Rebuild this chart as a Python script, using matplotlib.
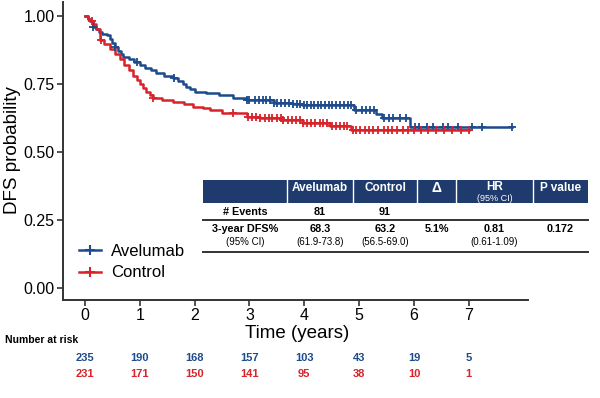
import numpy as np
import matplotlib
matplotlib.use("Agg")
import matplotlib.pyplot as plt
from matplotlib.patches import Rectangle
from matplotlib.lines import Line2D

plt.rcParams['font.family'] = ['Liberation Sans', 'DejaVu Sans']

# ---------------- data ----------------
groups = ["Avelumab", "Control"]
colors = ["#1d4b8c", "#d8232a"]

ave_times = [0, 0.05, 0.1, 0.15, 0.2, 0.25, 0.32, 0.4, 0.45, 0.5, 0.55, 0.6, 0.65, 0.7,
             0.8, 0.9, 1.0, 1.1, 1.2, 1.3, 1.45, 1.6, 1.7, 1.78, 1.85, 1.92, 2.0, 2.2,
             2.45, 2.7, 2.95, 3.45, 3.8, 3.95, 4.9, 5.3, 5.42, 5.93]
ave_surv = [1.0, 0.99, 0.98, 0.96, 0.95, 0.94, 0.935, 0.93, 0.915, 0.90, 0.885, 0.87, 0.86, 0.85,
            0.84, 0.83, 0.82, 0.81, 0.80, 0.79, 0.78, 0.77, 0.76, 0.75, 0.74, 0.73, 0.72, 0.715,
            0.71, 0.70, 0.69, 0.68, 0.676, 0.673, 0.655, 0.64, 0.625, 0.593]
ave_end = 7.79
ave_censor = [0.15, 0.55, 0.95, 1.62, 2.95, 3.0, 3.1, 3.18, 3.25, 3.3, 3.38, 3.45, 3.5, 3.58,
              3.65, 3.72, 3.8, 3.86, 3.92, 4.0, 4.05, 4.12, 4.18, 4.25, 4.3, 4.38, 4.45, 4.5,
              4.58, 4.65, 4.72, 4.8, 4.85, 4.95, 5.05, 5.12, 5.2, 5.28, 5.45, 5.55, 5.62, 5.75,
              5.85, 6.02, 6.1, 6.24, 6.35, 6.53, 6.62, 6.81, 7.06, 7.24, 7.79]

ctl_times = [0, 0.05, 0.1, 0.15, 0.2, 0.27, 0.35, 0.45, 0.55, 0.64, 0.72, 0.8, 0.88, 0.95,
             1.0, 1.06, 1.12, 1.18, 1.24, 1.4, 1.6, 1.8, 1.97, 2.15, 2.28, 2.5, 2.95, 3.2,
             3.6, 3.98, 4.47, 4.85]
ctl_surv = [1.0, 0.99, 0.98, 0.97, 0.95, 0.91, 0.895, 0.88, 0.86, 0.84, 0.82, 0.80, 0.78, 0.765,
            0.75, 0.735, 0.72, 0.71, 0.70, 0.69, 0.684, 0.675, 0.665, 0.66, 0.655, 0.643, 0.63,
            0.625, 0.618, 0.607, 0.594, 0.58]
ctl_end = 7.0
ctl_censor = [0.12, 0.3, 1.24, 2.7, 2.98, 3.05, 3.12, 3.2, 3.28, 3.35, 3.42, 3.5, 3.58, 3.62,
              3.7, 3.78, 3.85, 3.92, 3.98, 4.05, 4.12, 4.2, 4.28, 4.35, 4.42, 4.5, 4.58, 4.65,
              4.72, 4.78, 4.88, 4.95, 5.02, 5.1, 5.18, 5.25, 5.35, 5.45, 5.52, 5.6, 5.7, 5.8,
              5.9, 6.0, 6.12, 6.25, 6.4, 6.55, 6.7, 6.85, 7.0]

risk_times = [0, 1, 2, 3, 4, 5, 6, 7]
ave_risk = [235, 190, 168, 157, 103, 43, 19, 5]
ctl_risk = [231, 171, 150, 141, 95, 38, 10, 1]

table_cols = ["", "Avelumab", "Control", "\u0394", "HR", "P value"]
table_events = ["# Events", "81", "91", "", "", ""]
table_dfs = ["3-year DFS%", "68.3", "63.2", "5.1%", "0.81", "0.172"]
table_ci = ["(95% CI)", "(61.9-73.8)", "(56.5-69.0)", "", "(0.61-1.09)", ""]

# ---------------- figure ----------------
W, H = 600, 398
fig = plt.figure(figsize=(W / 100, H / 100), dpi=100)


def fx(x):
    return x / W


def fy(y):
    return 1 - y / H


ax = fig.add_axes([fx(63), fy(300), fx(528) - fx(63), fy(2) - fy(300)])
ax.set_xlim(-0.40, 8.08)
ax.set_ylim(-0.044, 1.051)


def step_xy(times, surv, end):
    xs = list(times) + [end]
    ys = list(surv) + [surv[-1]]
    return xs, ys


def surv_at(times, surv, t):
    idx = np.searchsorted(np.asarray(times), t, side="right") - 1
    return np.asarray(surv)[idx]


for times, surv, end, cens, col in [
    (ave_times, ave_surv, ave_end, ave_censor, colors[0]),
    (ctl_times, ctl_surv, ctl_end, ctl_censor, colors[1]),
]:
    xs, ys = step_xy(times, surv, end)
    ax.step(xs, ys, where="post", color=col, lw=1.8, zorder=3)
    cy = [surv_at(times, surv, t) for t in cens]
    ax.plot(cens, cy, ls="none", marker="+", ms=6, mew=1.3, color=col, zorder=4)

ax.set_yticks([0, 0.25, 0.5, 0.75, 1.0])
ax.set_yticklabels(["0.00", "0.25", "0.50", "0.75", "1.00"])
ax.set_xticks(risk_times)
for s in ["top", "right"]:
    ax.spines[s].set_visible(False)
for s in ["left", "bottom"]:
    ax.spines[s].set_color("#333333")
    ax.spines[s].set_linewidth(1.4)
ax.tick_params(axis="both", colors="#333333", labelcolor="black", labelsize=11.5,
               length=4, width=1.2, direction="out", pad=2)
fig.text(fx(13), fy(150), "DFS probability", rotation=90, ha="center", va="center",
         fontsize=13.5)

fig.text(fx(297), fy(334), "Time (years)", ha="center", va="center", fontsize=13.5)

# legend
ax.legend(handles=[Line2D([0], [0], color=colors[0], lw=1.8, marker="+", ms=7, mew=1.5),
                   Line2D([0], [0], color=colors[1], lw=1.8, marker="+", ms=7, mew=1.5)],
          labels=groups, loc="upper left",
          bbox_to_anchor=(fx(75) - fx(63), (fy(237) - fy(300)) / (fy(2) - fy(300))),
          bbox_transform=ax.transAxes, frameon=False, fontsize=12, handlelength=1.3,
          handletextpad=0.6, labelspacing=0.4, borderaxespad=0)

# number at risk
fig.text(fx(5), fy(340), "Number at risk", ha="left", va="center", fontsize=7.5,
         fontweight="bold")
for t, a, c in zip(risk_times, ave_risk, ctl_risk):
    xpix = ax.transData.transform((t, 0))[0]
    xf = xpix / (fig.dpi * fig.get_figwidth())
    fig.text(xf, fy(358), str(a), ha="center", va="center",
             fontsize=8, fontweight="bold", color=colors[0])
    fig.text(xf, fy(374), str(c), ha="center", va="center",
             fontsize=8, fontweight="bold", color=colors[1])

# summary table
col_edges = [203, 287, 353, 417, 456, 533, 588]
fig.patches.append(Rectangle((fx(203), fy(203)), fx(588) - fx(203), fy(180) - fy(203),
                             transform=fig.transFigure, facecolor="#1f3a6d", edgecolor="none",
                             zorder=5))
for e in col_edges[1:-1]:
    fig.lines.append(Line2D([fx(e), fx(e)], [fy(180), fy(203)], transform=fig.transFigure,
                            color="white", lw=1.0, zorder=6))
centers = [(a + b) / 2 for a, b in zip(col_edges[:-1], col_edges[1:])]
for i, name in enumerate(table_cols):
    if not name:
        continue
    yy = 187 if name == "HR" else 188
    fs = 10 if name == "\u0394" else 8.5
    fig.text(fx(centers[i]), fy(yy), name, ha="center", va="center", color="white",
             fontsize=fs, fontweight="bold", zorder=7)
fig.text(fx(centers[4]), fy(198), "(95% CI)", ha="center", va="center", color="white",
         fontsize=6.5, zorder=7)

for i, v in enumerate(table_events):
    if v:
        fig.text(fx(centers[i]), fy(212), v, ha="center", va="center", fontsize=7.8,
                 fontweight="bold")
fig.lines.append(Line2D([fx(203), fx(588)], [fy(220), fy(220)], transform=fig.transFigure,
                        color="#333333", lw=1.4))
for i, v in enumerate(table_dfs):
    if v:
        fig.text(fx(centers[i]), fy(229), v, ha="center", va="center", fontsize=7.8,
                 fontweight="bold")
for i, v in enumerate(table_ci):
    if v:
        fig.text(fx(centers[i]), fy(242), v, ha="center", va="center", fontsize=7)
fig.lines.append(Line2D([fx(203), fx(588)], [fy(252), fy(252)], transform=fig.transFigure,
                        color="#333333", lw=1.4))

fig.savefig("out.png", dpi=100)
